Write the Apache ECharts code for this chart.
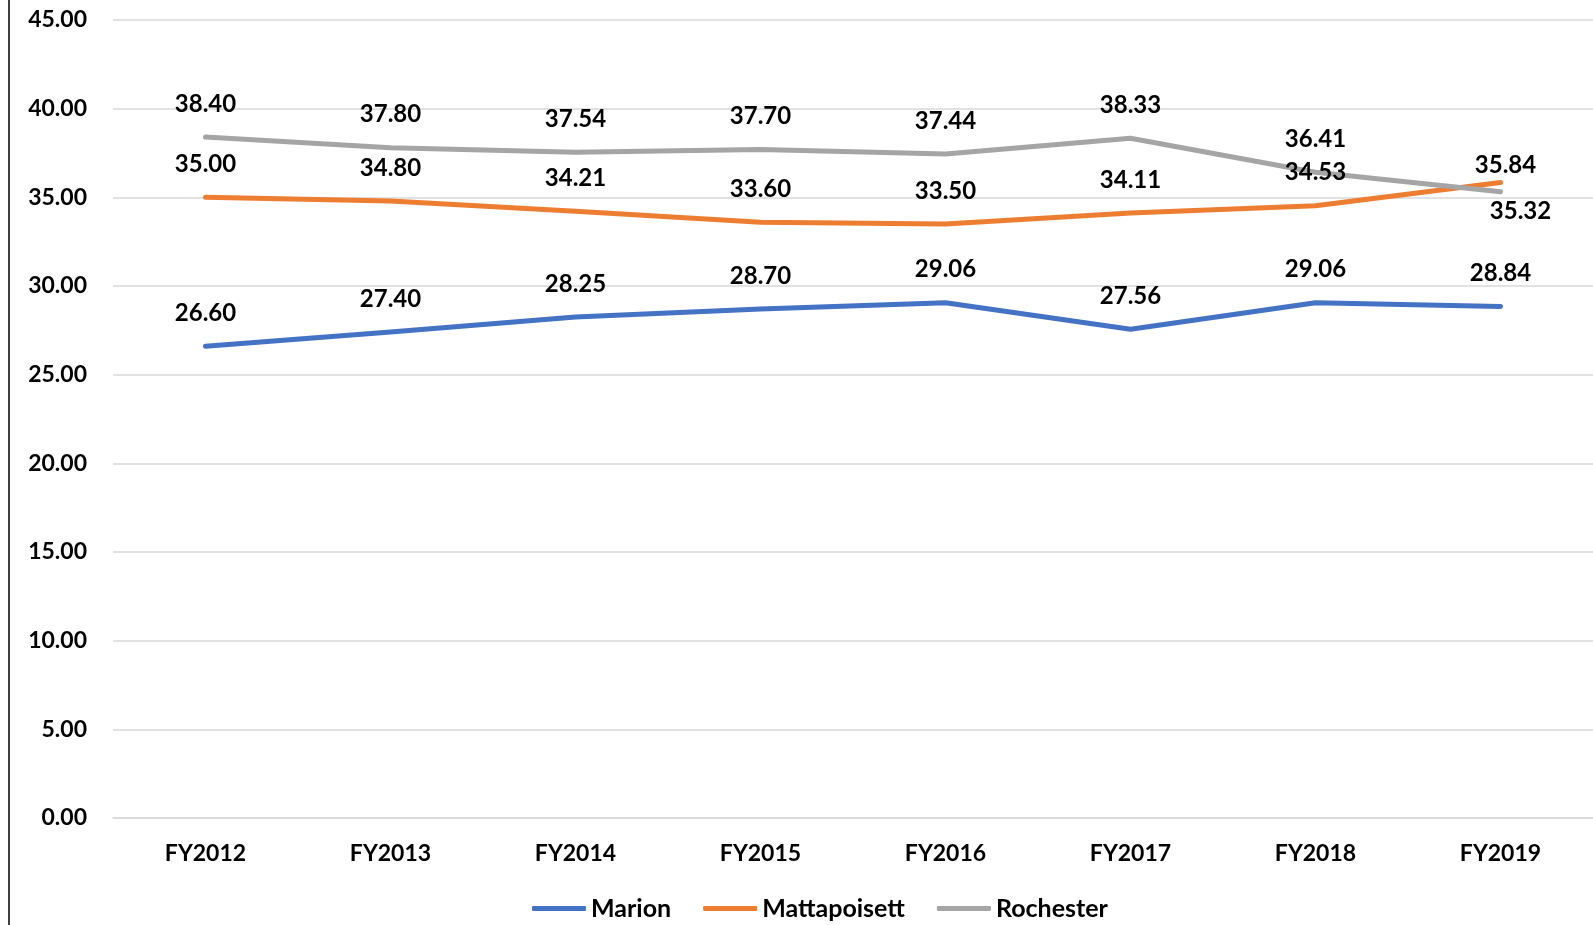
<!DOCTYPE html>
<html>
<head>
<meta charset="utf-8">
<script src="https://cdn.jsdelivr.net/npm/echarts@6/dist/echarts.min.js"></script>
<style>
  html, body { margin: 0; padding: 0; background: #fff; }
  #chart { width: 1593px; height: 925px; }
</style>
</head>
<body>
<div id="chart"></div>
<script>
// Fiscal years on the category axis
const categories = ['FY2012', 'FY2013', 'FY2014', 'FY2015', 'FY2016', 'FY2017', 'FY2018', 'FY2019'];

// Values per town
const marion = [26.60, 27.40, 28.25, 28.70, 29.06, 27.56, 29.06, 28.84];
const mattapoisett = [35.00, 34.80, 34.21, 33.60, 33.50, 34.11, 34.53, 35.84];
const rochester = [38.40, 37.80, 37.54, 37.70, 37.44, 38.33, 36.41, 35.32];

const FONT = 'Lato, "Liberation Sans", sans-serif';

// Per-point label adjustments where the lines cross near FY2019
// (left padding nudges the text to the right of the point)
const labelTweaks = {
  Mattapoisett: { 7: { distance: 5, padding: [0, 0, 0, 10] } },
  Rochester: { 7: { position: 'bottom', distance: 8, padding: [0, 0, 0, 40] } }
};

function labelStyle() {
  return {
    show: true,
    position: 'top',
    distance: 21,
    color: '#000',
    fontFamily: FONT,
    fontWeight: 'bold',
    fontSize: 24,
    formatter: p => p.value.toFixed(2)
  };
}

function makeSeries(name, values, color) {
  const tweaks = labelTweaks[name] || {};
  return {
    name: name,
    type: 'line',
    data: values.map((v, i) => tweaks[i] ? { value: v, label: tweaks[i] } : v),
    showSymbol: true,
    symbol: 'circle',
    symbolSize: 0.1,
    smooth: false,
    lineStyle: { color: color, width: 5, cap: 'round', join: 'round' },
    itemStyle: { color: color },
    label: labelStyle(),
    labelLayout: { hideOverlap: false },
    emphasis: { disabled: true },
    animation: false
  };
}

const chart = echarts.init(document.getElementById('chart'));
chart.setOption({
  animation: false,
  grid: { left: 113, right: -2, top: 20, bottom: 107, containLabel: false },
  legend: {
    bottom: -1,
    left: 527,
    itemWidth: 54,
    itemHeight: 5,
    itemGap: 32,
    icon: 'roundRect',
    textStyle: { fontFamily: FONT, fontWeight: 'bold', fontSize: 25, color: '#000' },
    data: ['Marion', 'Mattapoisett', 'Rochester']
  },
  xAxis: {
    type: 'category',
    data: categories,
    boundaryGap: true,
    axisLine: { show: true, lineStyle: { color: '#d9d9d9', width: 1.5 } },
    axisTick: { show: false },
    axisLabel: { margin: 24, color: '#000', fontFamily: FONT, fontWeight: 'bold', fontSize: 23 }
  },
  yAxis: {
    type: 'value',
    min: 0,
    max: 45,
    interval: 5,
    axisLine: { show: false },
    axisTick: { show: false },
    splitLine: { lineStyle: { color: '#d9d9d9', width: 1.5 } },
    axisLabel: {
      margin: 26,
      color: '#000',
      fontFamily: FONT,
      fontWeight: 'bold',
      fontSize: 23,
      formatter: v => v.toFixed(2)
    }
  },
  graphic: [{
    type: 'line',
    shape: { x1: 9, y1: 0, x2: 9, y2: 925 },
    style: { stroke: '#404040', lineWidth: 2 }
  }],
  series: [
    makeSeries('Marion', marion, '#4472C4'),
    makeSeries('Mattapoisett', mattapoisett, '#ED7D31'),
    makeSeries('Rochester', rochester, '#A5A5A5')
  ]
});
</script>
</body>
</html>
